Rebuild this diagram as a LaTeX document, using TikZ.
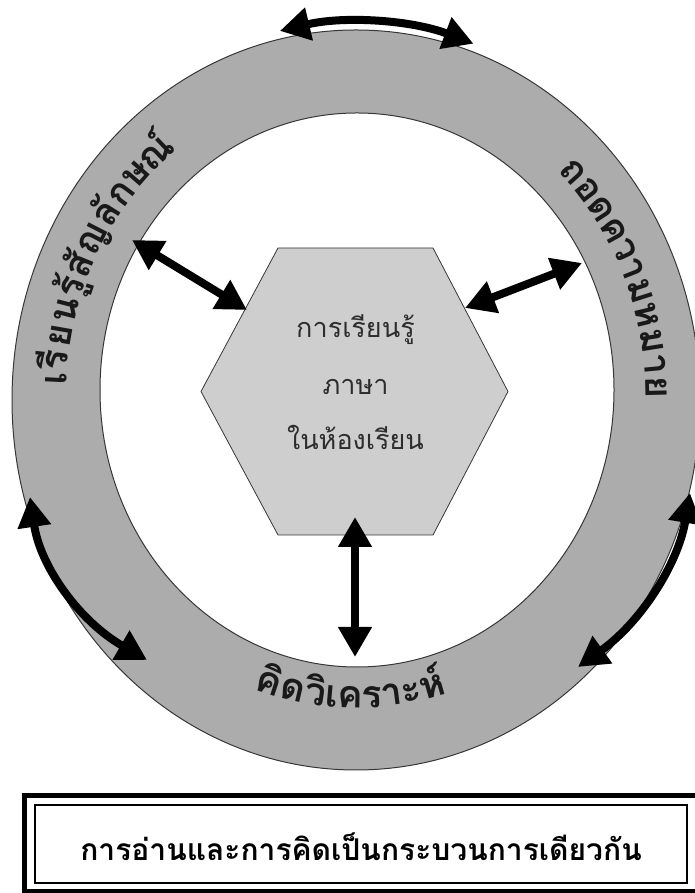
\documentclass[tikz,border=0pt]{standalone}
\usepackage{fontspec}
\newfontfamily\thaifont[Script=Thai]{Loma}
\usetikzlibrary{arrows.meta}
\definecolor{ringgray}{RGB}{172,172,172}
\definecolor{hexgray}{RGB}{206,206,206}
\definecolor{edgegray}{RGB}{55,55,55}
\definecolor{txtgray}{RGB}{45,45,45}
\begin{document}
\begin{tikzpicture}[x=1pt,y=1pt,
  ringtxt/.style={font=\thaifont\bfseries\fontsize{38}{40}\selectfont, anchor=base, inner sep=0pt, text=black!90},
  hextxt/.style={font=\thaifont\fontsize{27}{30}\selectfont, text=txtgray, inner sep=0pt},
  dbl/.style={line width=8pt, {Triangle[length=30pt,width=32pt]}-{Triangle[length=30pt,width=32pt]}},
]
\useasboundingbox (0,0) rectangle (694,893);
% ring
\fill[ringgray, even odd rule] (356,493) ellipse[x radius=344, y radius=370] (357,503) ellipse[x radius=257, y radius=277];
\draw[edgegray, line width=1pt] (356,493) ellipse[x radius=344, y radius=370];
\draw[edgegray, line width=1pt] (357,503) ellipse[x radius=257, y radius=277];
% hexagon
\coordinate (h1) at (278,645);
\coordinate (h2) at (433,645);
\coordinate (h3) at (508,501.5);
\coordinate (h4) at (433,358);
\coordinate (h5) at (278,358);
\coordinate (h6) at (201,501.5);
\filldraw[fill=hexgray, draw=edgegray, line width=0.8pt] (h1)--(h2)--(h3)--(h4)--(h5)--(h6)--cycle;
\node[hextxt] (x1) at (355.5,563) {การเรียนรู้};
\node[hextxt] (x2) at (355.5,506) {ภาษา};
\node[hextxt] (x3) at (355.5,456) {ในห้องเรียน};
% arrows to centre
\coordinate (ulA) at (132,653);
\coordinate (ulB) at (247,583);
\coordinate (urA) at (465,585);
\coordinate (urB) at (582,630);
\coordinate (bA) at (355,376);
\coordinate (bB) at (355,236);
\draw[dbl] (ulA) -- (ulB);
\draw[dbl] (urA) -- (urB);
\draw[dbl] (bA) -- (bB);
% arrows on ring
\coordinate (tA) at ({356+352*cos(102.5)},{493+378*sin(102.5)});
\draw[dbl] (tA) arc[start angle=102.5, end angle=70.5, x radius=352, y radius=378];
\coordinate (lA) at (30,396);
\coordinate (lB) at (147,233);
\draw[dbl] (lA) .. controls (40.3,326.3) and (79.3,272) .. (lB);
\coordinate (rA) at (690,400);
\coordinate (rB) at (578,226);
\draw[dbl] (rA) .. controls (678,328.7) and (640.7,270.7) .. (rB);
% ring texts
\foreach \t/\c [count=\i] in {176.8/เ,173.7/รี,169.3/ย,164.6/น,160.3/รู้,156.2/สั,151.0/ญ,145.7/ลั,141.2/ก,136.7/ษ,131.4/ณ์}
  \node[ringtxt, rotate={atan2(-313*cos(\t),290*sin(\t))}] (L\i) at ({356+290*cos(\t)},{497+313*sin(\t)}) {\c};
\foreach \t/\c [count=\i] in {43.9/ถ,39.6/อ,35.4/ด,30.9/ค,26.9/ว,23.2/า,19.0/ม,14.4/ห,9.85/ม,5.7/า,1.6/ย}
  \node[ringtxt, rotate={atan2(-313*cos(\t),290*sin(\t))}] (R\i) at ({356+290*cos(\t)},{497+313*sin(\t)}) {\c};
\foreach \t/\c [count=\i] in {252.5/คิ,257.4/ด,261.9/วิ,265.2/เ,268.9/ค,273.2/ร,277.1/า,281.0/ะ,285.4/ห์}
  \node[ringtxt, rotate={atan2(312*cos(\t),-300*sin(\t))}] (B\i) at ({356+300*cos(\t)},{497+312*sin(\t)}) {\c};
% caption box
\draw[line width=5pt] (24.5,1.5) rectangle (697,97.5);
\draw[line width=1.2pt] (35,10) rectangle (687,88);
\node[font=\thaifont\bfseries\fontsize{30}{32}\selectfont, inner sep=0pt] (cap) at (361,46) {การอ่านและการคิดเป็นกระบวนการเดียวกัน};
\end{tikzpicture}
\end{document}
